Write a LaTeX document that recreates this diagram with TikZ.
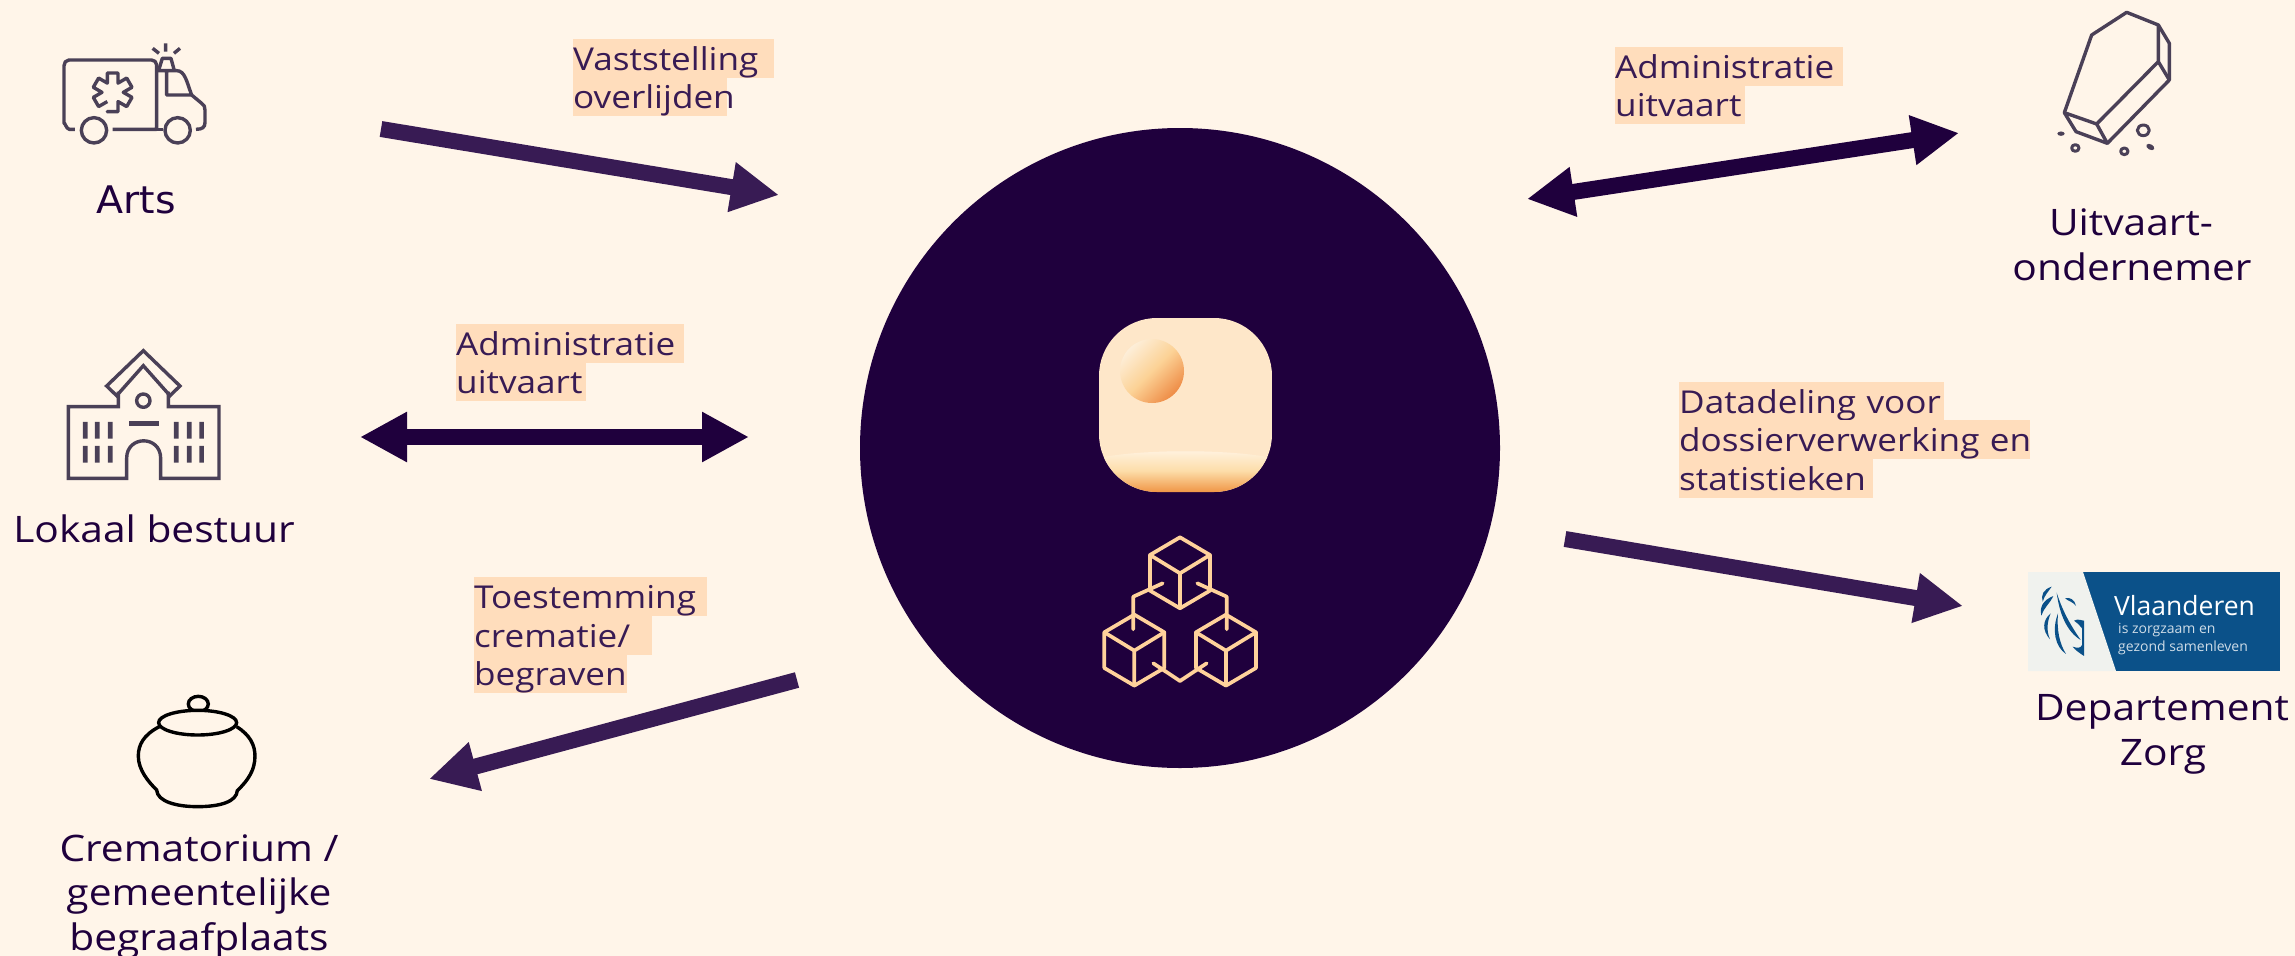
\documentclass[tikz,border=0pt]{standalone}
\usepackage{fontspec}
\usetikzlibrary{arrows.meta}
\setmainfont[FakeStretch=1.115]{Open Sans}
\newfontfamily\artsfont[FakeStretch=1.04]{DejaVu Sans}
\newfontfamily\logofont{Open Sans}
\definecolor{bgc}{HTML}{FFF5E9}
\definecolor{dark}{HTML}{1F003D}
\definecolor{purp}{HTML}{381B54}
\definecolor{hlc}{HTML}{FFDDBC}
\definecolor{iconc}{HTML}{4A4057}
\definecolor{cubec}{HTML}{FFD29B}
\definecolor{blueL}{HTML}{0B5189}
\definecolor{greyL}{HTML}{F0F2EE}
\tikzset{
  arrowone/.style={line width=16pt,purp,-{Triangle[length=48pt,width=47pt]}},
  arrowtwo/.style={line width=16pt,dark,{Triangle[length=47pt,width=47pt]}-{Triangle[length=47pt,width=47pt]}},
  actor/.style={anchor=base,inner sep=0pt,text=dark,font=\fontsize{36.5}{42}\selectfont},
  hl/.style={anchor=base west,inner xsep=0pt,inner ysep=0pt,fill=hlc,text=purp,align=left,text height=31pt,text depth=7.5pt,font=\fontsize{31.5}{38}\selectfont,text width=#1},
  icon/.style={draw=iconc,line width=3.4pt,line join=round},
  cube/.style={draw=cubec,line width=3.7pt,line join=round,line cap=round},
}
\begin{document}
\begin{tikzpicture}[x=1pt,y=-1pt]
\useasboundingbox (0,0) rectangle (2295,956);
\fill[bgc] (0,0) rectangle (2295,956);
% central circle
\node[circle,fill=dark,minimum size=640pt,inner sep=0pt] (hub) at (1180,448) {};
% rounded tile
\begin{scope}
\clip[rounded corners=58pt] (1099,318) rectangle (1272,492);
\fill[color={rgb,255:red,254;green,231;blue,201}] (1099,318) rectangle (1272,492);
\shade[top color={rgb,255:red,255;green,243;blue,226},bottom color={rgb,255:red,240;green,150;blue,70},middle color={rgb,255:red,253;green,222;blue,170}]
  (1099,458) .. controls (1140,449) and (1231,449) .. (1272,458) -- (1272,492) -- (1099,492) -- cycle;
\end{scope}
\shade[top color={rgb,255:red,253;green,238;blue,216},bottom color={rgb,255:red,238;green,140;blue,70},middle color={rgb,255:red,252;green,210;blue,150},shading angle=45] (1152,371) circle (32pt);
% cubes
\begin{scope}[shift={(1000,280)},x=0.3333pt,y=-0.3333pt]
\foreach \cx/\cy in {540/880,403/1112,678/1112}{
 \begin{scope}[shift={(\cx,\cy)}]
 \draw[cube] (0,-108)--(90,-55)--(90,52)--(0,105)--(-90,52)--(-90,-55)--cycle;
 \draw[cube] (-90,-55)--(0,0)--(90,-55) (0,0)--(0,105);
 \end{scope}}
\draw[cube] (488,910)--(400,950)--(400,1048);
\draw[cube] (592,910)--(680,950)--(680,1048);
\draw[cube] (460,1150)--(540,1203)--(620,1150);
\end{scope}
% ambulance
\begin{scope}[x=0.3333pt,y=-0.3333pt]
\draw[icon,line cap=butt] (225,388)--(208,388) to[out=180,in=90] (192,370)--(192,197) to[out=90,in=180] (207,180)--(455,180) to[out=0,in=90] (470,195)--(470,388)--(338,388);
\draw[icon] (282,391) circle (38) (533,391) circle (38);
\draw[icon] (470,388)--(490,388);
\draw[icon] (470,212)--(530,212) .. controls (555,212) and (560,245) .. (575,285)--(500,285)--(500,212);
\draw[icon] (575,285)--(605,310) .. controls (613,316) and (615,320) .. (615,330)--(615,368) .. controls (615,382) and (607,388) .. (588,388);
\draw[icon] (477,208)--(487,175)--(513,175)--(522,208);
\draw[icon] (497,130)--(497,155) (458,145)--(477,160) (540,145)--(522,160);
\begin{scope}[shift={(338,277)}]
\draw[icon] (105:60) \foreach \a in {90,30,-30,-90,-150,150}{ -- (\a+15.4:60) -- (\a-15.4:60) -- (\a-30:32)} ;
\end{scope}
\end{scope}
% coffin
\begin{scope}[shift={(1980,0)},x=0.3333pt,y=-0.3333pt]
\draw[icon] (335,105)--(440,37)--(535,75)--(568,130)--(568,240)--(382,430)--(288,395)--(253,338)--cycle;
\draw[icon] (535,75)--(535,185)--(568,240) (535,185)--(350,372)--(253,338) (350,372)--(382,430);
\fill[iconc] (243,401) ellipse (11 and 6.5);
\fill[iconc,rotate around={-30:(511,441)}] (511,441) ellipse (13 and 8);
\draw[icon,line width=3pt] (286,444) ellipse (11 and 10) (433,454) ellipse (11 and 10) (490,391) ellipse (18 and 16);
\end{scope}
% school
\begin{scope}[shift={(0,330)},x=0.3333pt,y=-0.3333pt]
\draw[icon,line join=miter] (355,185)--(355,230)--(205,230)--(205,445)--(380,445)--(380,385) .. controls (380,315) and (482,315) .. (482,385)--(482,445)--(657,445)--(657,230)--(505,230)--(505,185);
\draw[icon,line join=miter] (430,62)--(540,168)--(510,197)--(430,107)--(350,197)--(320,168)--cycle;
\draw[icon] (430,212) circle (20);
\fill[iconc] (388,273) rectangle (476,287);
\foreach \x in {256,292,331,529,568,605}{\fill[iconc] (\x-7,276) rectangle (\x+7,326) (\x-7,348) rectangle (\x+7,398);}
\end{scope}
% urn
\begin{scope}[shift={(20,670)},x=0.3333pt,y=-0.3333pt]
\draw[black,line width=3.4pt] (535,102) ellipse (30 and 23);
\fill[bgc] (533,158) ellipse (117 and 37);
\draw[black,line width=3.4pt] (533,158) ellipse (117 and 37);
\draw[black,line width=3.4pt] (418,170) .. controls (370,195) and (355,225) .. (355,258) .. controls (355,300) and (385,335) .. (410,360) .. controls (412,395) and (470,410) .. (533,410) .. controls (600,410) and (650,395) .. (652,362) .. controls (685,330) and (705,300) .. (705,258) .. controls (705,225) and (690,195) .. (650,170);
\end{scope}
% Vlaanderen logo
\fill[blueL] (2028,572) rectangle (2280,671);
\fill[greyL] (2028,572)--(2083,572)--(2116,671)--(2028,671)--cycle;
\begin{scope}[shift={(2000,550)},x=0.3333pt,y=-0.3333pt]
\fill[blueL] (155,110) .. controls (130,118) and (122,135) .. (128,155) .. controls (134,135) and (145,125) .. (155,110) -- cycle;
\fill[blueL] (160,138) .. controls (130,150) and (118,170) .. (124,197) .. controls (130,175) and (150,160) .. (160,138) -- cycle;
\fill[blueL] (152,190) .. controls (128,210) and (125,240) .. (150,268) .. controls (138,240) and (142,215) .. (152,190) -- cycle;
\fill[blueL] (174,190) .. controls (155,240) and (165,290) .. (198,312) .. controls (178,280) and (170,240) .. (174,190) -- cycle;
\fill[blueL] (170,128) .. controls (178,190) and (200,245) .. (242,270) .. controls (215,230) and (190,190) .. (170,128) -- cycle;
\fill[blueL] (195,145) .. controls (210,140) and (225,150) .. (228,168) .. controls (218,155) and (208,155) .. (195,145) -- cycle;
\fill[blueL] (222,212) .. controls (235,205) and (245,212) .. (252,212) -- (252,318) .. controls (240,310) and (225,300) .. (218,290) .. controls (232,295) and (242,295) .. (246,285) -- (246,235) .. controls (240,225) and (232,220) .. (222,212) -- cycle;
\end{scope}
\node[anchor=base west,inner sep=0pt,text=white,font=\logofont\fontsize{26.5}{28}\selectfont] (lv) at (2114,615) {Vlaanderen};
\node[anchor=base west,inner sep=0pt,text=white!80!blueL,font=\logofont\fontsize{14}{16}\selectfont] (lz) at (2118,633) {is zorgzaam en};
\node[anchor=base west,inner sep=0pt,text=white!80!blueL,font=\logofont\fontsize{14}{16}\selectfont] (lg) at (2118,651) {gezond samenleven};
% actors
\node[actor,font=\artsfont\fontsize{38}{44}\selectfont] (arts) at (136,213) {Arts};
\node[actor] (lok) at (154,542) {Lokaal bestuur};
\node[actor] (cr1) at (199,861) {Crematorium /};
\node[actor] (cr2) at (199,905) {gemeentelijke};
\node[actor] (cr3) at (199,950) {begraafplaats};
\node[actor] (uit1) at (2131,235) {Uitvaart-};
\node[actor] (uit2) at (2132,280) {ondernemer};
\node[actor] (dep1) at (2162,720) {Departement};
\node[actor] (dep2) at (2163,765) {Zorg};
% labels
\node[hl=201pt] (a1) at (573,70) {\mbox{Vaststelling}};
\node[hl=154pt] (a2) at (573,108) {\mbox{overlijden}};
\node[hl=228pt] (b1) at (456,355) {\mbox{Administratie}};
\node[hl=130pt] (b2) at (456,393) {\mbox{uitvaart}};
\node[hl=233pt] (c1) at (474,608) {\mbox{Toestemming}};
\node[hl=178pt] (c2) at (474,647) {\mbox{crematie/}};
\node[hl=153pt] (c3) at (474,685) {\mbox{begraven}};
\node[hl=228pt] (d1) at (1615,78) {\mbox{Administratie}};
\node[hl=130pt] (d2) at (1615,116) {\mbox{uitvaart}};
\node[hl=265pt] (e1) at (1679,413) {\mbox{Datadeling voor}};
\node[hl=351pt] (e2) at (1679,451) {\mbox{dossierverwerking en}};
\node[hl=194pt] (e3) at (1679,490) {\mbox{statistieken}};
% connectors
\coordinate (p1) at (381,129); \coordinate (q1) at (779,195);
\coordinate (p2) at (360,437); \coordinate (q2) at (749,437);
\coordinate (p3) at (797,680); \coordinate (q3) at (429,779);
\coordinate (p4) at (1527,199); \coordinate (q4) at (1959,133);
\coordinate (p5) at (1565,539); \coordinate (q5) at (1963,606);
\draw[arrowone] (p1)--(q1);
\draw[arrowtwo] (p2)--(q2);
\draw[arrowone] (p3)--(q3);
\draw[arrowtwo] (p4)--(q4);
\draw[arrowone] (p5)--(q5);
\end{tikzpicture}
\end{document}
